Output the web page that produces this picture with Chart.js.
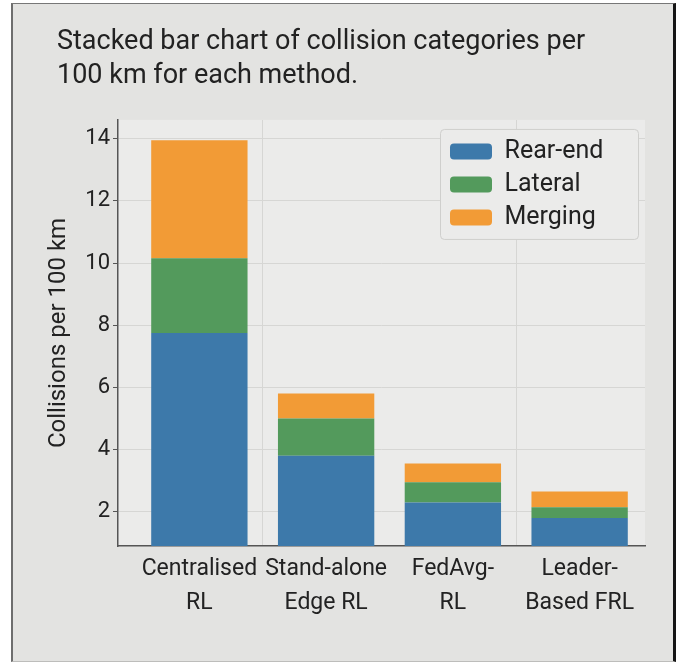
<!DOCTYPE html>
<html>
<head>
<meta charset="utf-8">
<script src="https://cdn.jsdelivr.net/npm/chart.js@4.4.1/dist/chart.umd.min.js"></script>
<style>
  html, body { margin: 0; padding: 0; background: #fff; }
  #frame {
    position: absolute; left: 11px; top: 3px; width: 660px; height: 657px;
    background: #e3e3e1;
    border-left: 2px solid #6e6e6e; border-top: 1px solid #777;
    border-right: 3px solid #151515; border-bottom: 1px solid #bdbdbb;
  }
  #frame canvas { display: block; }
</style>
</head>
<body>
<div id="frame"><canvas id="collisions" width="660" height="654"></canvas></div>
<script>
// collisions per 100 km
const methods = [['Centralised', 'RL'], ['Stand-alone', 'Edge RL'], ['FedAvg-', 'RL'], ['Leader-', 'Based FRL']];
const rearEnd = [7.75, 3.8, 2.3, 1.8];
const lateral = [2.4, 1.2, 0.65, 0.35];
const merging = [3.8, 0.8, 0.6, 0.5];
const yTicks = [2, 4, 6, 8, 10, 12, 14];

const ink = '#222';
Chart.defaults.font.family = 'Roboto';

// lighter plot area
const plotBg = {
    id: 'plotBg',
    beforeDraw(chart) {
        const { ctx, chartArea: a } = chart;
        ctx.save();
        ctx.fillStyle = '#ebebea';
        ctx.fillRect(a.left, a.top, a.right - a.left, a.bottom - a.top);
        ctx.restore();
    }
};

// the original leaves a gap between the y axis and the first bar
const xGap = {
    id: 'xGap',
    afterLayout(chart) {
        const x = chart.scales.x;
        const gap = 18;
        const unit = (x.width - gap - 2) / methods.length;
        x._valueRange = x.width / unit;
        x._startValue = -0.5 - gap / unit;
    }
};

// legend inside the plot, top right, with a framed box drawn over the grid
const legendInside = {
    id: 'legendInside',
    afterInit(chart) {
        const lg = chart.legend;
        lg._layers = () => [{
            z: 1,
            draw(area) {
                const a = chart.chartArea, ctx = chart.ctx;
                const bx = a.right - 205, by = a.top + 9;
                ctx.save();
                ctx.beginPath();
                ctx.roundRect(bx + 0.5, by + 0.5, 198, 110, 4);
                ctx.fillStyle = '#ebebea';
                ctx.fill();
                ctx.strokeStyle = '#cfcfcd';
                ctx.lineWidth = 1;
                ctx.stroke();
                ctx.restore();
                lg.draw(area);
            }
        }];
    },
    afterUpdate(chart) {
        const lg = chart.legend, a = chart.chartArea;
        const pad = lg.options.labels.padding;
        const bx = a.right - 205, by = a.top + 9;
        lg.left = bx + 10 - pad;
        lg.top = by + 2;
        lg.right = lg.left + lg.width;
        lg.bottom = lg.top + lg.height;
    }
};

new Chart(document.getElementById('collisions'), {
    type: 'bar',
    data: {
        labels: methods,
        datasets: [
            { label: 'Rear-end', data: rearEnd, backgroundColor: '#3d79aa', borderWidth: 0 },
            { label: 'Lateral', data: lateral, backgroundColor: '#539a5c', borderWidth: 0 },
            { label: 'Merging', data: merging, backgroundColor: '#f29b36', borderWidth: 0 }
        ]
    },
    options: {
        responsive: false,
        animation: false,
        barPercentage: 0.76,
        categoryPercentage: 1,
        layout: { padding: { left: 44, right: 28, top: 0, bottom: 0 } },
        plugins: {
            title: {
                display: true,
                text: ['Stacked bar chart of collision categories per', '100 km for each method.'],
                align: 'start',
                color: ink,
                font: { size: 27, weight: 'normal', lineHeight: 1.24 },
                padding: { top: 22, bottom: 27 }
            },
            legend: {
                position: 'chartArea',
                align: 'start',
                labels: {
                    color: ink,
                    font: { size: 25 },
                    boxWidth: 42,
                    boxHeight: 16,
                    useBorderRadius: true,
                    borderRadius: 4,
                    padding: 8
                }
            },
            tooltip: { enabled: false }
        },
        scales: {
            x: {
                stacked: true,
                afterFit: s => { s.height = 112; },
                border: { color: '#555', width: 1.5 },
                grid: {
                    drawTicks: false,
                    color: c => (c.index === 1 || c.index === 3) ? '#d6d6d4' : 'transparent'
                },
                ticks: {
                    color: ink,
                    padding: 6,
                    maxRotation: 0,
                    autoSkip: false,
                    font: { size: 23, lineHeight: 1.48 }
                }
            },
            y: {
                stacked: true,
                min: 0.9,
                max: 14.6,
                afterBuildTicks: s => { s.ticks = yTicks.map(v => ({ value: v })); },
                afterFit: s => { s.width = 61; },
                border: { color: '#555', width: 1.5 },
                grid: { color: '#d6d6d4', tickLength: 5, tickColor: '#555' },
                ticks: { color: ink, padding: 3, font: { size: 22 } },
                title: {
                    display: true,
                    text: 'Collisions per 100 km',
                    color: ink,
                    font: { size: 24 },
                    padding: { top: -12, bottom: 0 }
                }
            }
        }
    },
    plugins: [plotBg, xGap, legendInside]
});
</script>
</body>
</html>
